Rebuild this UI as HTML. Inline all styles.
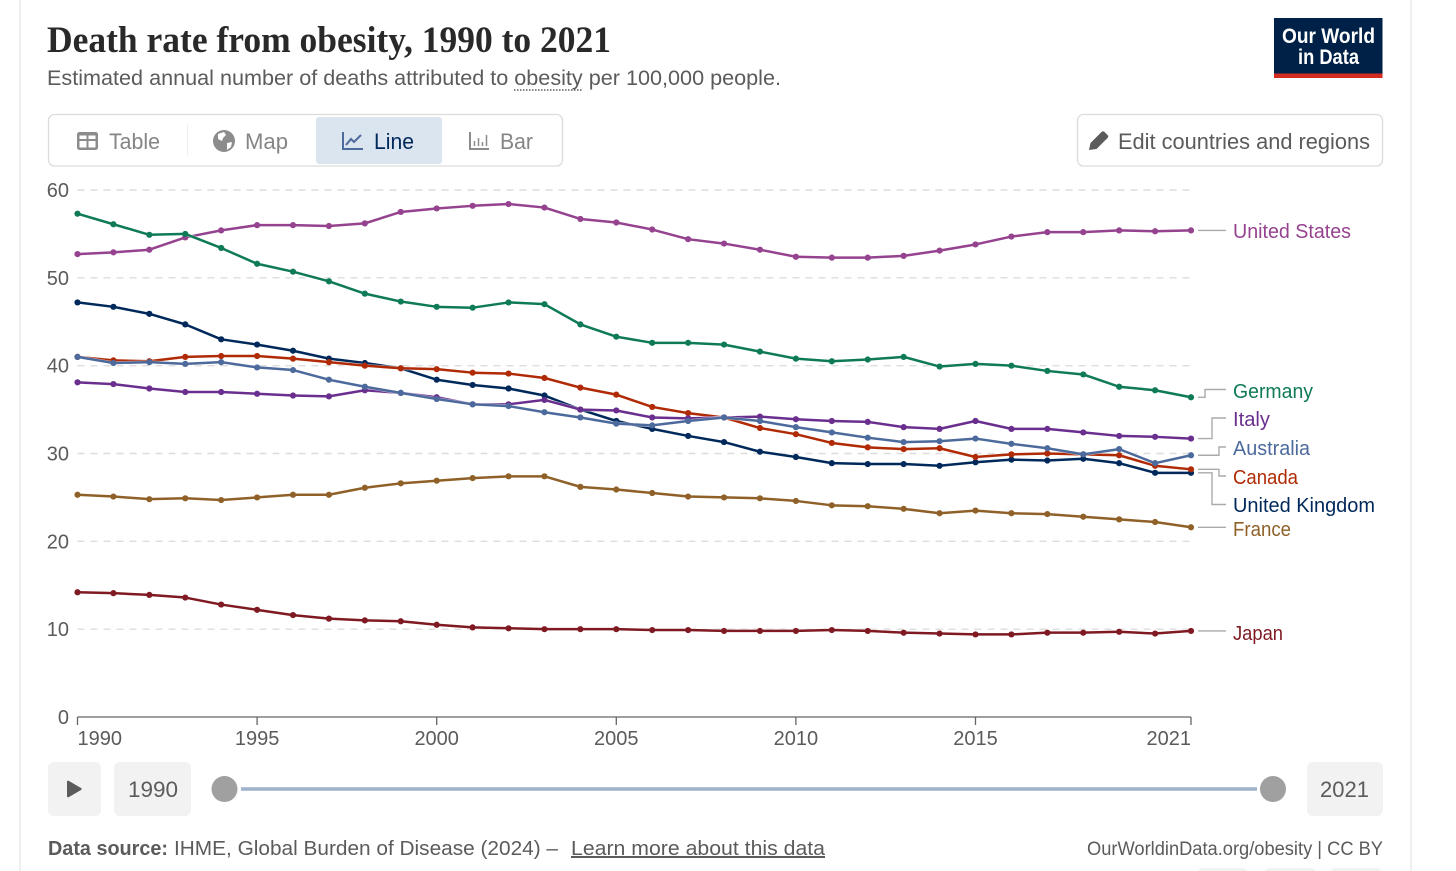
<!DOCTYPE html>
<html lang="en">
<head>
<meta charset="utf-8">
<title>Death rate from obesity, 1990 to 2021</title>
<style>
html,body{margin:0;padding:0;background:#fff;width:1456px;height:871px;overflow:hidden}
svg{display:block;font-family:"Liberation Sans",sans-serif}
.tick{font-size:20px;fill:#5b5b5b}
.lab{font-size:20px}
</style>
</head>
<body>
<svg id="chart" width="1456" height="871" viewBox="0 0 1456 871" xmlns="http://www.w3.org/2000/svg">
  <rect x="19" y="0" width="2" height="871" fill="#f0f0f0"/>
  <rect x="1410" y="0" width="2" height="871" fill="#f0f0f0"/>

  <text x="47" y="52" font-family="'Liberation Serif',serif" font-weight="700" font-size="37" fill="#292929" textLength="564" lengthAdjust="spacingAndGlyphs">Death rate from obesity, 1990 to 2021</text>
  <text x="47" y="85" font-size="21" fill="#5b5b5b" textLength="734" lengthAdjust="spacingAndGlyphs">Estimated annual number of deaths attributed to obesity per 100,000 people.</text>
  <line x1="514" x2="583" y1="90" y2="90" stroke="#5b5b5b" stroke-width="1.5" stroke-dasharray="1.5 1.5"/>

  <g>
    <rect x="1274" y="18" width="108.5" height="60" fill="#002147"/>
    <rect x="1274" y="73.5" width="108.5" height="4.5" fill="#d42b21"/>
    <text x="1282" y="43" font-size="21" font-weight="700" fill="#fff" textLength="93" lengthAdjust="spacingAndGlyphs">Our World</text>
    <text x="1298" y="64" font-size="21" font-weight="700" fill="#fff" textLength="61" lengthAdjust="spacingAndGlyphs">in Data</text>
  </g>

  <g>
    <rect x="48.5" y="114.5" width="514" height="51.5" rx="6" fill="#fff" stroke="#dcdcdc" stroke-width="1.3"/>
    <rect x="316" y="117" width="126" height="47" rx="3" fill="#dbe5f0"/>
    <line x1="187.5" x2="187.5" y1="125" y2="155" stroke="#eeeeee" stroke-width="1"/>
    <g>
      <rect x="77" y="132" width="21" height="18" rx="2.5" fill="#8c8c8c"/>
      <path d="M79.5 139h7v-3.5h-7zM88.5 139h7v-3.5h-7zM79.5 147.500h7v-6.500h-7zM88.5 147.500h7v-6.500h-7z" fill="#fff"/>
      <text x="109" y="149" font-size="22" fill="#858585" textLength="51" lengthAdjust="spacingAndGlyphs">Table</text>
    </g>
    <g>
      <circle cx="224" cy="141" r="11" fill="#8c8c8c"/>
      <path d="M218 134l6-2 2 3-3 3-1 3-4-2zM227 143l5-1-1 5-4 3z" fill="#fff"/>
      <text x="245" y="149" font-size="22" fill="#858585" textLength="43" lengthAdjust="spacingAndGlyphs">Map</text>
    </g>
    <g>
      <path d="M343 132v17h20" fill="none" stroke="#4c6a9c" stroke-width="2"/>
      <path d="M346 145l5-6 3 3 7-7" fill="none" stroke="#4c6a9c" stroke-width="2"/>
      <text x="374" y="149" font-size="22" fill="#00295b" textLength="40" lengthAdjust="spacingAndGlyphs">Line</text>
    </g>
    <g>
      <path d="M470 132v17h19" fill="none" stroke="#8c8c8c" stroke-width="2"/>
      <path d="M474.500 146v-5M478.500 146v-8M482.500 146v-4M486.500 146v-11" fill="none" stroke="#8c8c8c" stroke-width="1.500"/>
      <text x="500" y="149" font-size="22" fill="#858585" textLength="33" lengthAdjust="spacingAndGlyphs">Bar</text>
    </g>
  </g>

  <g>
    <rect x="1077.500" y="114.500" width="305" height="51.500" rx="6" fill="#fff" stroke="#dcdcdc" stroke-width="1.300"/>
    <path d="M1089 150l1.500-7 11-11q1.500-1.500 3 0l3 3q1.500 1.500 0 3l-11 11z" fill="#5b5b5b"/>
    <text x="1118" y="149" font-size="22" fill="#5b5b5b" textLength="252" lengthAdjust="spacingAndGlyphs">Edit countries and regions</text>
  </g>

  <g id="grid"></g>
  <g id="yticks"></g>
  <g id="xaxis"></g>
  <g id="connectors"></g>
  <g id="series"></g>

  <g>
    <text class="lab" x="1233" y="238" fill="#95428f" textLength="118" lengthAdjust="spacingAndGlyphs">United States</text>
    <text class="lab" x="1233" y="398" fill="#0f7a58" textLength="80" lengthAdjust="spacingAndGlyphs">Germany</text>
    <text class="lab" x="1233" y="426" fill="#6a2f8e" textLength="37" lengthAdjust="spacingAndGlyphs">Italy</text>
    <text class="lab" x="1233" y="455" fill="#4c6a9c" textLength="77" lengthAdjust="spacingAndGlyphs">Australia</text>
    <text class="lab" x="1233" y="484" fill="#b02a05" textLength="65" lengthAdjust="spacingAndGlyphs">Canada</text>
    <text class="lab" x="1233" y="512" fill="#00295b" textLength="142" lengthAdjust="spacingAndGlyphs">United Kingdom</text>
    <text class="lab" x="1233" y="536" fill="#8f6128" textLength="58" lengthAdjust="spacingAndGlyphs">France</text>
    <text class="lab" x="1233" y="640" fill="#7f1a23" textLength="50" lengthAdjust="spacingAndGlyphs">Japan</text>
  </g>

  <g>
    <g>
      <rect x="48" y="762" width="53" height="54" rx="6" fill="#f2f2f2"/>
      <path d="M67 782q0-2 2-1l12 7q1.500 1 0 2l-12 7q-2 1-2-1z" fill="#5b5b5b"/>
    </g>
    <g>
      <rect x="114" y="762" width="77" height="54" rx="6" fill="#f2f2f2"/>
      <text x="128" y="797" font-size="22" fill="#5b5b5b" textLength="50" lengthAdjust="spacingAndGlyphs">1990</text>
    </g>
    <rect x="241" y="787.200" width="1016" height="3.600" fill="#9fb3cd"/>
    <circle cx="224.500" cy="789" r="13" fill="#a0a0a0"/>
    <circle cx="1273" cy="789" r="13" fill="#a0a0a0"/>
    <g>
      <rect x="1307" y="762" width="76" height="54" rx="6" fill="#f2f2f2"/>
      <text x="1320" y="797" font-size="22" fill="#5b5b5b" textLength="49" lengthAdjust="spacingAndGlyphs">2021</text>
    </g>
  </g>

  <g>
    <text x="48" y="855" font-size="20" font-weight="700" fill="#5b5b5b" textLength="120" lengthAdjust="spacingAndGlyphs">Data source:</text>
    <text x="174" y="855" font-size="20" fill="#5b5b5b" textLength="384" lengthAdjust="spacingAndGlyphs">IHME, Global Burden of Disease (2024) –</text>
    <text x="571" y="855" font-size="20" fill="#5b5b5b" text-decoration="underline" textLength="254" lengthAdjust="spacingAndGlyphs">Learn more about this data</text>
    <text x="1087" y="855" font-size="19" fill="#5b5b5b" textLength="296" lengthAdjust="spacingAndGlyphs">OurWorldinData.org/obesity | CC BY</text>
    <rect x="1198" y="868" width="50" height="12" rx="5" fill="#f2f2f2"/>
    <rect x="1264" y="868" width="52" height="12" rx="5" fill="#f2f2f2"/>
    <rect x="1330" y="868" width="52" height="12" rx="5" fill="#f2f2f2"/>
  </g>
</svg>

<script>
const startYear = 1990;
const endYear = 2021;
const yTickValues = [0, 10, 20, 30, 40, 50, 60];
const xTickValues = [1990, 1995, 2000, 2005, 2010, 2015, 2021];

const unitedStates = [52.7,52.9,53.2,54.6,55.4,56.0,56.0,55.9,56.2,57.5,57.9,58.2,58.4,58.0,56.7,56.3,55.5,54.4,53.9,53.2,52.4,52.3,52.3,52.5,53.1,53.8,54.7,55.2,55.2,55.4,55.3,55.4];
const germany = [57.3,56.1,54.9,55.0,53.4,51.6,50.7,49.6,48.2,47.3,46.7,46.6,47.2,47.0,44.7,43.3,42.6,42.6,42.4,41.6,40.8,40.5,40.7,41.0,39.9,40.2,40.0,39.4,39.0,37.6,37.2,36.4];
const unitedKingdom = [47.2,46.7,45.9,44.7,43.0,42.4,41.7,40.8,40.3,39.7,38.4,37.8,37.4,36.6,35.0,33.7,32.8,32.0,31.3,30.2,29.6,28.9,28.8,28.8,28.6,29.0,29.3,29.2,29.4,28.9,27.8,27.8];
const canada = [41.0,40.6,40.5,41.0,41.1,41.1,40.8,40.4,40.0,39.7,39.6,39.2,39.1,38.6,37.5,36.7,35.3,34.6,34.1,32.9,32.2,31.2,30.7,30.5,30.6,29.6,29.9,30.0,29.9,29.8,28.6,28.2];
const italy = [38.1,37.9,37.4,37.0,37.0,36.8,36.6,36.5,37.2,36.9,36.4,35.6,35.6,36.1,35.0,34.9,34.1,34.0,34.1,34.2,33.9,33.7,33.6,33.0,32.8,33.7,32.8,32.8,32.4,32.0,31.9,31.7];
const australia = [41.0,40.3,40.4,40.2,40.4,39.8,39.5,38.4,37.6,36.9,36.2,35.6,35.4,34.7,34.1,33.4,33.2,33.7,34.1,33.7,33.0,32.4,31.8,31.3,31.4,31.7,31.1,30.6,29.9,30.5,28.9,29.8];
const france = [25.3,25.1,24.8,24.9,24.7,25.0,25.3,25.3,26.1,26.6,26.9,27.2,27.4,27.4,26.2,25.9,25.5,25.1,25.0,24.9,24.6,24.1,24.0,23.7,23.2,23.5,23.2,23.1,22.8,22.5,22.2,21.6];
const japan = [14.2,14.1,13.9,13.6,12.8,12.2,11.6,11.2,11.0,10.9,10.5,10.2,10.1,10.0,10.0,10.0,9.9,9.9,9.8,9.8,9.8,9.9,9.8,9.6,9.5,9.4,9.4,9.6,9.6,9.7,9.5,9.8];

const NS = 'http://www.w3.org/2000/svg';
const plotLeft = 77.5, plotRight = 1191, plotBottom = 717, plotTop = 190;
function xScale(year) { return plotLeft + (year - startYear) / (endYear - startYear) * (plotRight - plotLeft); }
function yScale(value) { return plotBottom - value / 60 * (plotBottom - plotTop); }
function make(tag, parent, attrs) {
  const el = document.createElementNS(NS, tag);
  for (const k in attrs) el.setAttribute(k, attrs[k]);
  parent.appendChild(el);
  return el;
}

const grid = document.getElementById('grid');
const yticks = document.getElementById('yticks');
yTickValues.forEach(function (v) {
  if (v > 0) {
    const g = make('line', grid, {x1: plotLeft, x2: plotRight, y1: yScale(v), y2: yScale(v), stroke: '#dddddd', 'stroke-width': 1.4, 'stroke-dasharray': '7 6'});
    
    
  }
  const t = make('text', yticks, {x: 69, y: yScale(v) + 7, 'text-anchor': 'end', class: 'tick'});
  
  
  t.textContent = v;
});

const xaxis = document.getElementById('xaxis');
const axisLine = make('line', xaxis, {x1: plotLeft, x2: plotRight, y1: plotBottom, y2: plotBottom, stroke: '#666666', 'stroke-width': 1.3});


xTickValues.forEach(function (yr) {
  const m = make('line', xaxis, {x1: xScale(yr), x2: xScale(yr), y1: plotBottom, y2: plotBottom + 8, stroke: '#666666', 'stroke-width': 1.3});
  
  
  const anchor = yr === startYear ? 'start' : (yr === endYear ? 'end' : 'middle');
  const t = make('text', xaxis, {x: xScale(yr), y: 745, 'text-anchor': anchor, class: 'tick'});
  
  
  t.textContent = yr;
});

const connectors = document.getElementById('connectors');
function drawConnector(name, values, elbowX, labelY) {
  const sy = yScale(values[values.length - 1]);
  const p = make('path', connectors, {d: 'M1198 ' + sy + 'H' + elbowX + 'V' + labelY + 'H1226', fill: 'none', stroke: '#aaaaaa', 'stroke-width': 1.4});
  
  
}
drawConnector('united-states', unitedStates, 1212, yScale(unitedStates[31]));
drawConnector('germany', germany, 1205, 389.5);
drawConnector('italy', italy, 1212, 418);
drawConnector('australia', australia, 1219, 447);
drawConnector('canada', canada, 1219, 476);
drawConnector('united-kingdom', unitedKingdom, 1212, 504.5);
drawConnector('france', france, 1212, yScale(france[31]));
drawConnector('japan', japan, 1212, yScale(japan[31]));

const seriesLayer = document.getElementById('series');
function drawSeries(name, values, color) {
  const g = make('g', seriesLayer, {});
  
  
  const pts = values.map(function (v, i) { return xScale(startYear + i) + ',' + yScale(v); }).join(' ');
  const halo = make('polyline', g, {points: pts, fill: 'none', stroke: '#fff', 'stroke-width': 3.6, 'stroke-linejoin': 'round', opacity: 0.6});
  
  
  const line = make('polyline', g, {points: pts, fill: 'none', stroke: color, 'stroke-width': 2.5, 'stroke-linejoin': 'round'});
  
  
  values.forEach(function (v, i) {
    const c = make('circle', g, {cx: xScale(startYear + i), cy: yScale(v), r: 3.1, fill: color});
    
    
  });
}
drawSeries('japan', japan, '#7f1a23');
drawSeries('france', france, '#8f6128');
drawSeries('united-kingdom', unitedKingdom, '#00295b');
drawSeries('canada', canada, '#b02a05');
drawSeries('italy', italy, '#6a2f8e');
drawSeries('australia', australia, '#4c6a9c');
drawSeries('united-states', unitedStates, '#95428f');
drawSeries('germany', germany, '#0f7a58');
</script>
</body>
</html>
